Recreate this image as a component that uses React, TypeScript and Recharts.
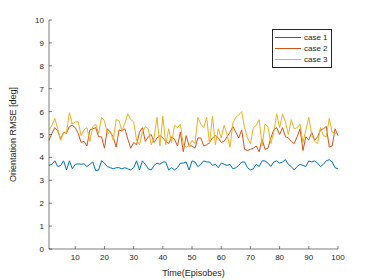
import React from "react";
import { LineChart, Line, XAxis, YAxis, Legend } from "recharts";

// episode numbers along the x axis
const episodes = [
    1, 2, 3, 4, 5, 6, 7, 8, 9, 10, 11, 12, 13, 14, 15, 16, 17, 18, 19, 20,
    21, 22, 23, 24, 25, 26, 27, 28, 29, 30, 31, 32, 33, 34, 35, 36, 37, 38, 39, 40,
    41, 42, 43, 44, 45, 46, 47, 48, 49, 50, 51, 52, 53, 54, 55, 56, 57, 58, 59, 60,
    61, 62, 63, 64, 65, 66, 67, 68, 69, 70, 71, 72, 73, 74, 75, 76, 77, 78, 79, 80,
    81, 82, 83, 84, 85, 86, 87, 88, 89, 90, 91, 92, 93, 94, 95, 96, 97, 98, 99, 100,
];

const case1 = [
    3.65, 3.7, 3.85, 3.6, 3.65, 3.85, 3.45, 3.85, 3.5, 3.7, 3.72, 3.7, 3.72, 3.6, 3.7, 3.8, 3.42, 3.45, 3.85, 3.75,
    3.6, 3.55, 3.5, 3.55, 3.55, 3.5, 3.55, 3.5, 3.45, 3.55, 3.85, 3.45, 3.85, 3.7, 3.5, 3.45, 3.65, 3.75, 3.7, 3.8,
    3.8, 3.45, 3.55, 3.45, 3.55, 3.75, 3.75, 3.8, 3.45, 3.85, 3.8, 3.6, 3.7, 3.85, 3.8, 3.8, 3.65, 3.7, 3.55, 3.75,
    3.7, 3.65, 3.7, 3.5, 3.55, 3.65, 3.8, 3.8, 3.55, 3.45, 3.5, 3.7, 3.6, 3.85, 3.85, 3.75, 3.6, 3.8, 3.85, 3.75,
    3.8, 3.9, 3.7, 3.6, 3.45, 3.6, 3.7, 3.65, 3.6, 3.85, 3.8, 3.85, 3.75, 3.6, 3.7, 3.85, 3.9, 3.8, 3.55, 3.5,
];

const case2 = [
    4.75, 5.05, 5.3, 5.15, 4.8, 5.1, 5.05, 5.35, 5.4, 5.3, 5.05, 4.65, 4.7, 4.5, 5.2, 5.25, 5.3, 4.9, 4.9, 4.4,
    5.25, 5.1, 4.9, 4.45, 5.2, 5.15, 5.25, 4.8, 4.4, 4.65, 4.55, 5.1, 5.3, 4.7, 4.9, 5.0, 4.65, 4.85, 4.95, 4.85,
    4.7, 4.6, 4.9, 4.8, 4.5, 5.1, 4.25, 4.95, 4.5, 4.5, 4.4, 4.85, 4.85, 4.5, 4.55, 4.65, 4.85, 4.95, 4.85, 4.65,
    4.7, 4.9, 5.1, 5.35, 5.1, 4.85, 5.2, 4.35, 4.3, 4.35, 4.4, 4.5, 4.25, 4.8, 4.35, 4.4, 4.85, 5.2, 5.3, 5.0,
    5.3, 4.9, 4.85, 4.7, 4.6, 4.9, 5.25, 4.3, 4.9, 4.75, 5.1, 4.75, 4.9, 5.2, 5.25, 5.35, 4.45, 4.5, 5.25, 4.95,
];

const case3 = [
    5.2, 5.4, 5.7, 5.25, 4.75, 5.1, 5.1, 5.95, 5.45, 5.55, 5.55, 4.95, 5.2, 5.3, 4.7, 5.35, 5.45, 5.05, 5.75, 5.6,
    5.0, 5.15, 4.75, 5.65, 5.6, 5.15, 5.5, 5.9, 5.65, 5.55, 4.75, 4.55, 5.1, 5.35, 5.25, 4.55, 4.85, 5.75, 4.5, 5.8,
    4.55, 5.25, 4.65, 5.4, 5.3, 5.45, 4.55, 4.45, 4.5, 4.75, 4.6, 5.75, 5.45, 5.3, 5.75, 4.6, 5.8, 4.55, 5.25, 4.85,
    5.4, 5.0, 4.45, 5.5, 5.75, 5.85, 6.0, 5.3, 4.85, 4.6, 5.3, 5.4, 5.65, 4.5, 5.45, 5.35, 4.6, 5.1, 5.9, 5.3,
    5.9, 5.55, 5.0, 5.65, 5.25, 5.3, 5.45, 4.65, 5.2, 5.75, 5.0, 4.7, 4.6, 5.3, 4.95, 4.9, 5.7, 5.1, 5.05, 5.05,
];

const xTicks = [10, 20, 30, 40, 50, 60, 70, 80, 90, 100];
const yTicks = [0, 1, 2, 3, 4, 5, 6, 7, 8, 9, 10];

const data = episodes.map((ep, i) => ({
    episode: ep,
    case1: case1[i],
    case2: case2[i],
    case3: case3[i],
}));

const FONT = "'Liberation Sans', Arial, sans-serif";
const AXIS = "#262626";
const TICK_LEN = 3;

const BottomTick = ({ x, y, payload }: any) => (
    <g>
        <line x1={x} x2={x} y1={y} y2={y - TICK_LEN} stroke={AXIS} strokeWidth={0.6} />
        <text x={x} y={y + 11} textAnchor="middle" fontSize={8} fontFamily={FONT} fill={AXIS}>
            {payload.value}
        </text>
    </g>
);

const TopTick = ({ x, y }: any) => (
    <line x1={x} x2={x} y1={y} y2={y + TICK_LEN} stroke={AXIS} strokeWidth={0.6} />
);

const LeftTick = ({ x, y, payload }: any) => (
    <g>
        <line x1={x} x2={x + TICK_LEN} y1={y} y2={y} stroke={AXIS} strokeWidth={0.6} />
        <text x={x - 5} y={y + 3} textAnchor="end" fontSize={8} fontFamily={FONT} fill={AXIS}>
            {payload.value}
        </text>
    </g>
);

const RightTick = ({ x, y }: any) => (
    <line x1={x} x2={x - TICK_LEN} y1={y} y2={y} stroke={AXIS} strokeWidth={0.6} />
);

const LegendBox = ({ payload }: any) => (
    <div
        style={{
            border: "1px solid #262626",
            background: "#fff",
            width: 58,
            padding: "2px 0 2px 0",
            fontFamily: FONT,
            fontSize: 8,
            color: AXIS,
        }}
    >
        {(payload || []).map((entry: any) => (
            <div key={entry.value} style={{ display: "flex", alignItems: "center", height: 11 }}>
                <svg width={31} height={11}>
                    <line x1={2} x2={28} y1={5.5} y2={5.5} stroke={entry.color} strokeWidth={1} />
                </svg>
                <span>{entry.value}</span>
            </div>
        ))}
    </div>
);

const App = () => {
    return (
        <div style={{ position: "absolute", left: 0, top: 0, width: 374, height: 280, background: "#fff" }}>
            <LineChart width={374} height={280} data={data} margin={{ top: 20, right: 36, bottom: 0, left: 0 }}>
                <XAxis
                    dataKey="episode"
                    type="number"
                    domain={[1, 100]}
                    ticks={xTicks}
                    interval={0}
                    height={31}
                    tickSize={0}
                    tickMargin={0}
                    tickLine={false}
                    stroke={AXIS}
                    strokeWidth={0.6}
                    tick={<BottomTick />}
                    label={{
                        value: "Time(Episobes)",
                        position: "center",
                        dy: 8,
                        style: { fontSize: 9, fontFamily: FONT, fill: AXIS },
                    }}
                />
                <XAxis
                    xAxisId="top"
                    orientation="top"
                    dataKey="episode"
                    type="number"
                    domain={[1, 100]}
                    ticks={xTicks}
                    interval={0}
                    height={0}
                    tickSize={0}
                    tickMargin={0}
                    tickLine={false}
                    stroke={AXIS}
                    strokeWidth={0.6}
                    tick={<TopTick />}
                />
                <YAxis
                    type="number"
                    domain={[0, 10]}
                    ticks={yTicks}
                    interval={0}
                    width={49}
                    tickSize={0}
                    tickMargin={0}
                    tickLine={false}
                    stroke={AXIS}
                    strokeWidth={0.6}
                    tick={<LeftTick />}
                    label={{
                        value: "Orientation RMSE [deg]",
                        angle: -90,
                        position: "center",
                        dx: -12,
                        style: { fontSize: 9, fontFamily: FONT, fill: AXIS, textAnchor: "middle" },
                    }}
                />
                <YAxis
                    yAxisId="right"
                    orientation="right"
                    type="number"
                    domain={[0, 10]}
                    ticks={yTicks}
                    interval={0}
                    width={0}
                    tickSize={0}
                    tickMargin={0}
                    tickLine={false}
                    stroke={AXIS}
                    strokeWidth={0.6}
                    tick={<RightTick />}
                />
                <Legend
                    layout="vertical"
                    align="center"
                    verticalAlign="middle"
                    content={<LegendBox />}
                    wrapperStyle={{ position: "absolute", left: 272, top: 29, width: 60 }}
                />
                <Line type="linear" dataKey="case1" name="case 1" stroke="#0072BD" strokeWidth={1} dot={false} isAnimationActive={false} />
                <Line type="linear" dataKey="case2" name="case 2" stroke="#D95319" strokeWidth={1} dot={false} isAnimationActive={false} />
                <Line type="linear" dataKey="case3" name="case 3" stroke="#EDB120" strokeWidth={1} dot={false} isAnimationActive={false} />
            </LineChart>
        </div>
    );
};

export default App;
